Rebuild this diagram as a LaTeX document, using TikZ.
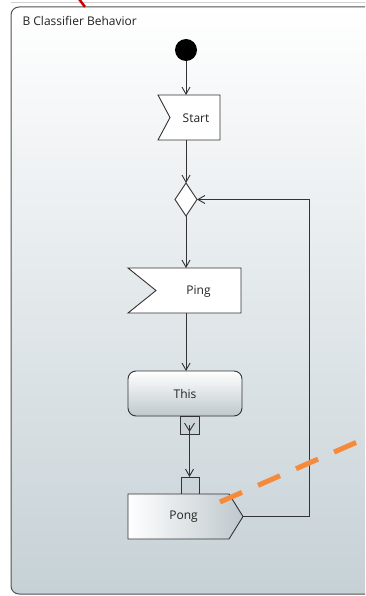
\documentclass[tikz,border=0pt]{standalone}
\usepackage{fontspec}
\setmainfont{Open Sans}
\usetikzlibrary{arrows.meta,calc}
\definecolor{bgbot}{HTML}{C6D1D6}
\definecolor{pinfill}{HTML}{CBD5D9}
\definecolor{edge}{HTML}{333333}
\definecolor{shadebot}{HTML}{BFC8CD}
\definecolor{orangec}{HTML}{F58A3C}
\definecolor{txt}{HTML}{222222}
\begin{document}
\begin{tikzpicture}[x=1pt,y=-1pt,
  font=\fontsize{12}{14}\selectfont, text=txt,
  flow/.style={draw=edge, line width=0.9pt, -{Straight Barb[length=7pt,width=8pt]}},
  outline/.style={draw=edge, line width=0.9pt},
  box/.style={inner sep=0pt, outer sep=0pt}]
\useasboundingbox (0,0) rectangle (365,596);
\begin{scope}
  \clip (0,0) rectangle (365,596);
  \draw[gray!35, line width=1pt] (11,3) -- (400,3);
  \shade[top color=white, bottom color=bgbot, rounded corners=8pt] (11,7) rectangle (400,594);
  \draw[edge!85, line width=1pt, rounded corners=8pt] (11,7) rectangle (400,594);
  \draw[red!80!black, line width=2.5pt] (79,-1) -- (85,7);
\end{scope}
\node[anchor=west] (title) at (19,21) {B Classifier Behavior};

% initial node
\node[circle, fill=black, minimum size=22pt, box] (init) at (186,50) {};

% Start (accept event)
\node[box, minimum width=62pt, minimum height=45pt] (start) at (189,117.5) {};
\draw[outline, fill=white] (start.north west) -- (start.north east) -- (start.south east) -- (start.south west) -- ($(start.west)+(12,0)$) -- cycle;
\node at ($(start.center)+(7,1)$) {Start};

% decision
\node[box, minimum width=22pt, minimum height=33pt] (dec) at (186,199.5) {};
\draw[outline, fill=white] (dec.north) -- (dec.east) -- (dec.south) -- (dec.west) -- cycle;

% Ping (accept event)
\node[box, minimum width=113pt, minimum height=45pt] (ping) at (184.5,290.5) {};
\draw[outline, fill=white] (ping.north west) -- (ping.north east) -- (ping.south east) -- (ping.south west) -- ($(ping.west)+(28,0)$) -- cycle;
\node at ($(ping.center)+(14,1)$) {Ping};

% This (action)
\node[box, minimum width=114pt, minimum height=45pt] (this) at (185,393.5) {};
\shade[top color=white, bottom color=shadebot, rounded corners=8pt] (this.north west) rectangle (this.south east);
\draw[outline, rounded corners=8pt] (this.north west) rectangle (this.south east);
\node at (this.center) {This};

% output pin
\node[box, draw=edge, line width=0.9pt, fill=pinfill, minimum width=19pt, minimum height=18pt] (pout) at (189.5,425) {};
\draw[edge, line width=0.9pt] ($(pout.center)+(-5,-2)$) -- ($(pout.center)+(0,6)$) -- ($(pout.center)+(5,-2)$);

% input pin
\node[box, draw=edge, line width=0.9pt, fill=pinfill, minimum width=18pt, minimum height=17pt] (pin) at (190,485.5) {};

% Pong (send signal)
\node[box, minimum width=115pt, minimum height=45pt] (pong) at (185.5,516.5) {};
\shade[left color=white, right color=shadebot] (pong.north west) -- ($(pong.north east)+(-14,0)$) -- (pong.east) -- ($(pong.south east)+(-14,0)$) -- (pong.south west) -- cycle;
\draw[outline] (pong.north west) -- ($(pong.north east)+(-14,0)$) -- (pong.east) -- ($(pong.south east)+(-14,0)$) -- (pong.south west) -- cycle;
\node at ($(pong.center)+(-2,0)$) {Pong};

% flows
\draw[flow] (init.south) -- (start.north -| init.south);
\draw[flow] (start.south -| init.south) -- (dec.north);
\draw[flow] (dec.south) -- (ping.north -| dec.south);
\draw[flow] (ping.south -| dec.south) -- (this.north -| dec.south);
\draw[flow] (pout.center) -- (pin.north -| pout.center);
\coordinate (loopc) at (309,516.5);
\draw[flow] (pong.east) -- (loopc) |- (dec.east);

% orange dashed annotation
\draw[orangec, line width=5pt, dash pattern=on 24pt off 17.5pt] (220,502) -- (372,435.5);
\end{tikzpicture}
\end{document}
